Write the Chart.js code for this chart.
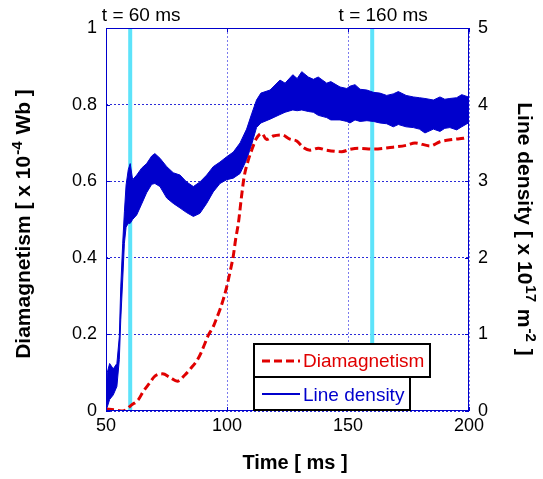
<!DOCTYPE html>
<html>
<head>
<meta charset="utf-8">
<script src="https://cdn.jsdelivr.net/npm/chart.js@4.4.1/dist/chart.umd.min.js"></script>
<style>
  body { margin: 0; background: #fff; }
  #wrap { width: 543px; height: 479px; }
</style>
</head>
<body>
<div id="wrap"><canvas id="myChart"></canvas></div>
<script>
// diamagnetism, left axis [x 10^-4 Wb]
const diaTime = [50, 53.7, 57, 60.6, 63.3, 65.3, 67.9, 70.2, 73.4, 76.4, 79.5, 82.6, 85, 87.7, 89.5, 90.9,
  92.3, 94.3, 95.7, 97.1, 98.5, 99.9, 101.5, 102.6, 103.6, 104.7, 106, 107.1, 108.8, 110.2, 112, 114.3,
  116.4, 119.1, 122.6, 126, 128.8, 131.5, 134.3, 137.7, 141.2, 147.4, 150.8, 154.3, 160.5, 167.4, 174.3,
  177.7, 183.9, 188, 193.5, 197.7, 200];
const diaValue = [0.005, 0.003, 0.0, 0.016, 0.029, 0.05, 0.072, 0.091, 0.097, 0.088, 0.078, 0.094, 0.111, 0.133, 0.155, 0.177,
  0.198, 0.22, 0.242, 0.265, 0.292, 0.325, 0.37, 0.405, 0.45, 0.49, 0.56, 0.612, 0.655, 0.681, 0.71, 0.725,
  0.709, 0.718, 0.721, 0.71, 0.705, 0.688, 0.681, 0.686, 0.681, 0.677, 0.683, 0.686, 0.684, 0.688, 0.694,
  0.70, 0.692, 0.703, 0.709, 0.712, 0.715];

// line density, right axis [x 10^17 m^-2]: upper and lower edge of the noisy trace
const densTime = [50, 50.5, 51.5, 53, 54.5, 55.5, 56.1, 56.9, 57.6, 58.3, 59.2, 60, 61, 62.7, 64.7, 66.8,
  68.9, 70.2, 72.3, 75.1, 77.8, 80.6, 83.3, 86.1, 88.8, 91.6, 94.3, 97.1, 99.9, 102.6, 105.4, 108.1,
  110.2, 112.2, 114, 117.8, 121.9, 124, 127.2, 129, 130.9, 133.6, 135.7, 137.7, 141.2, 142.9, 146.7,
  149.5, 150.8, 152.9, 155, 157.8, 160.5, 163.2, 166, 168.7, 170.8, 174, 177, 179.5, 181.8, 185.3,
  188, 190, 192.1, 194.9, 197, 199.7, 200];
const densHigh = [0.0, 0.5, 0.62, 0.55, 0.62, 0.97, 1.62, 2.19, 2.6, 2.95, 3.15, 3.23, 3.02, 3.08, 3.17, 3.23,
  3.33, 3.36, 3.30, 3.19, 3.11, 3.08, 2.99, 2.93, 2.99, 3.08, 3.19, 3.25, 3.32, 3.38, 3.5, 3.68,
  3.88, 4.06, 4.15, 4.19, 4.32, 4.28, 4.39, 4.34, 4.43, 4.36, 4.33, 4.36, 4.28, 4.30, 4.23,
  4.21, 4.24, 4.26, 4.20, 4.19, 4.16, 4.15, 4.12, 4.14, 4.17, 4.12, 4.10, 4.09, 4.08, 4.06,
  4.10, 4.07, 4.08, 4.09, 4.13, 4.10, 4.06];
const densLow = [0.0, 0.05, 0.15, 0.21, 0.32, 0.67, 1.19, 1.71, 2.19, 2.40, 2.45, 2.45, 2.5, 2.56, 2.70, 2.85,
  2.96, 2.97, 2.93, 2.78, 2.71, 2.65, 2.59, 2.54, 2.58, 2.71, 2.86, 2.97, 3.02, 3.04, 3.10, 3.28,
  3.48, 3.70, 3.76, 3.81, 3.87, 3.90, 3.93, 3.92, 3.93, 3.91, 3.90, 3.86, 3.83, 3.80, 3.80,
  3.78, 3.76, 3.80, 3.78, 3.79, 3.78, 3.76, 3.75, 3.71, 3.74, 3.71, 3.70, 3.68, 3.63, 3.68,
  3.65, 3.69, 3.70, 3.67, 3.71, 3.76, 3.74];

// time markers
const markTimes = [60, 160];
const markLabels = ['t = 60 ms', 't = 160 ms'];

const blue = '#0000cc';
const red = '#e00000';
const cyan = '#5de3fa';
const FONT = "'Liberation Sans', Arial, sans-serif";

function pts(xs, ys) {
  return xs.map((x, i) => ({ x: x, y: ys[i] }));
}

function richText(ctx, parts, x, y, angle) {
  ctx.save();
  ctx.translate(x, y);
  ctx.rotate(angle);
  let total = 0;
  parts.forEach(p => {
    ctx.font = p.sup ? 'bold 15px ' + FONT : 'bold 21px ' + FONT;
    p.w = ctx.measureText(p.t).width + (p.sup ? 2 : 0);
    total += p.w;
  });
  let cx = -total / 2;
  ctx.textAlign = 'left';
  ctx.textBaseline = 'alphabetic';
  ctx.fillStyle = '#000';
  parts.forEach(p => {
    ctx.font = p.sup ? 'bold 15px ' + FONT : 'bold 21px ' + FONT;
    ctx.fillText(p.t, cx + (p.sup ? 1 : 0), p.sup ? -8 : 0);
    cx += p.w;
  });
  ctx.restore();
}

const decor = {
  id: 'decor',
  afterDraw(chart) {
    const ctx = chart.ctx;
    const a = chart.chartArea;
    const sx = chart.scales.x, sy = chart.scales.y, sy2 = chart.scales.y2;

    // frame + inner tick marks
    ctx.save();
    ctx.strokeStyle = blue;
    ctx.lineWidth = 1;
    ctx.strokeRect(a.left + 0.5, a.top + 0.5, a.right - a.left - 1, a.bottom - a.top - 1);
    ctx.beginPath();
    sx.ticks.forEach(t => {
      const px = Math.round(sx.getPixelForValue(t.value)) + 0.5;
      ctx.moveTo(px, a.bottom); ctx.lineTo(px, a.bottom - 4);
      ctx.moveTo(px, a.top); ctx.lineTo(px, a.top + 4);
    });
    sy.ticks.forEach(t => {
      const py = Math.round(sy.getPixelForValue(t.value)) + 0.5;
      ctx.moveTo(a.left, py); ctx.lineTo(a.left + 4, py);
    });
    sy2.ticks.forEach(t => {
      const py = Math.round(sy2.getPixelForValue(t.value)) + 0.5;
      ctx.moveTo(a.right, py); ctx.lineTo(a.right - 4, py);
    });
    ctx.stroke();
    ctx.restore();

    // marker labels
    ctx.save();
    ctx.font = '19px ' + FONT;
    ctx.fillStyle = '#000';
    ctx.textAlign = 'center';
    ctx.textBaseline = 'alphabetic';
    markTimes.forEach((t, i) => {
      ctx.fillText(markLabels[i], sx.getPixelForValue(t) + 11, 21);
    });
    ctx.restore();

    // axis titles
    ctx.save();
    ctx.font = 'bold 20px ' + FONT;
    ctx.fillStyle = '#000';
    ctx.textAlign = 'center';
    ctx.fillText('Time [ ms ]', 295, 469);
    ctx.restore();
    richText(ctx, [{ t: 'Diamagnetism [ x 10' }, { t: '-4', sup: true }, { t: ' Wb ]' }], 30, 224, -Math.PI / 2);
    richText(ctx, [{ t: 'Line density [ x 10' }, { t: '17', sup: true }, { t: ' m' }, { t: '-2', sup: true }, { t: ' ]' }], 518, 229, Math.PI / 2);

    // legend boxes
    ctx.save();
    ctx.fillStyle = '#fff';
    ctx.strokeStyle = '#000';
    ctx.lineWidth = 2;
    ctx.fillRect(254, 344, 176, 33);
    ctx.strokeRect(254, 344, 176, 33);
    ctx.fillRect(254, 377, 156, 33);
    ctx.strokeRect(254, 377, 156, 33);
    ctx.lineWidth = 3;
    ctx.strokeStyle = red;
    ctx.setLineDash([8, 4]);
    ctx.beginPath(); ctx.moveTo(262, 361); ctx.lineTo(300, 361); ctx.stroke();
    ctx.setLineDash([]);
    ctx.lineWidth = 2;
    ctx.strokeStyle = blue;
    ctx.beginPath(); ctx.moveTo(262, 394); ctx.lineTo(300, 394); ctx.stroke();
    ctx.font = '19px ' + FONT;
    ctx.textAlign = 'left';
    ctx.textBaseline = 'alphabetic';
    ctx.fillStyle = red;
    ctx.fillText('Diamagnetism', 303, 367);
    ctx.fillStyle = blue;
    ctx.fillText('Line density', 303, 401);
    ctx.restore();
  }
};

const ctx = document.getElementById('myChart');

const myChart = new Chart(ctx, {
  type: 'line',
  data: {
    datasets: [
      {
        label: 'Diamagnetism',
        data: pts(diaTime, diaValue),
        yAxisID: 'y',
        borderColor: red,
        borderWidth: 3,
        borderDash: [8, 4],
        pointRadius: 0,
        cubicInterpolationMode: 'monotone',
        fill: false,
        order: 0
      },
      {
        label: 'Line density',
        data: pts(densTime, densHigh),
        yAxisID: 'y2',
        borderColor: blue,
        borderWidth: 1,
        backgroundColor: blue,
        pointRadius: 0,
        fill: '+1',
        order: 1
      },
      {
        label: 'Line density low',
        data: pts(densTime, densLow),
        yAxisID: 'y2',
        borderColor: blue,
        borderWidth: 1,
        pointRadius: 0,
        fill: false,
        order: 1
      },
      {
        label: 't60',
        data: pts([markTimes[0], markTimes[0]], [0, 1]),
        yAxisID: 'y',
        borderColor: cyan,
        borderWidth: 4,
        pointRadius: 0,
        fill: false,
        order: 5
      },
      {
        label: 't160',
        data: pts([markTimes[1], markTimes[1]], [0, 1]),
        yAxisID: 'y',
        borderColor: cyan,
        borderWidth: 4,
        pointRadius: 0,
        fill: false,
        order: 5
      }
    ]
  },
  options: {
    responsive: true,
    maintainAspectRatio: false,
    animation: false,
    layout: { padding: { top: 28, left: 0, right: 0, bottom: 0 } },
    plugins: {
      legend: { display: false },
      tooltip: { enabled: false }
    },
    scales: {
      x: {
        type: 'linear',
        min: 50,
        max: 200,
        ticks: { stepSize: 50, color: '#000', padding: 4, font: { family: FONT, size: 18 } },
        grid: { color: '#7b7bee', drawTicks: false },
        border: { display: false, dash: [2, 2] },
        afterFit(s) { s.height = 68; }
      },
      y: {
        position: 'left',
        min: 0,
        max: 1,
        ticks: {
          stepSize: 0.2, color: '#000', padding: 9, font: { family: FONT, size: 18 },
          callback: v => String(Math.round(v * 10) / 10)
        },
        grid: { color: '#2a2ad8', drawTicks: false },
        border: { display: false, dash: [2, 2] },
        afterFit(s) { s.width = 106; }
      },
      y2: {
        position: 'right',
        min: 0,
        max: 5,
        ticks: { stepSize: 1, color: '#000', padding: 9, font: { family: FONT, size: 18 } },
        grid: { drawOnChartArea: false, drawTicks: false },
        border: { display: false },
        afterFit(s) { s.width = 74; }
      }
    }
  },
  plugins: [decor]
});
</script>
</body>
</html>
